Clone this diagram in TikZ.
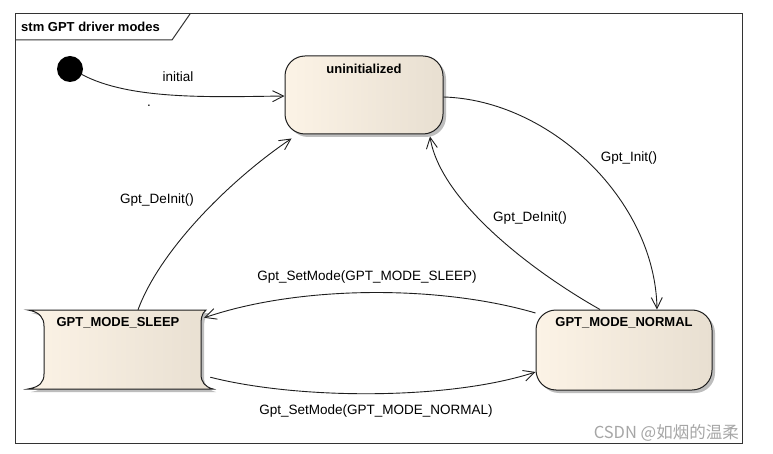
\documentclass[tikz,border=0pt]{standalone}
\usepackage{fontspec}
\setmainfont{Liberation Sans}
\newfontfamily\cjkfont{Noto Sans CJK SC}
\usetikzlibrary{arrows.meta,calc}
\definecolor{edgec}{HTML}{1E1E1E}
\definecolor{fillL}{HTML}{FCF3E6}
\definecolor{fillR}{HTML}{E8DFD1}
\definecolor{shadowc}{HTML}{BDBDBD}
\begin{document}
\begin{tikzpicture}[x=1pt,y=-1pt,
  conn/.style={draw=edgec, line width=0.9pt, -{Straight Barb[length=11pt,width=11pt,line width=0.9pt]}},
  lbl/.style={font=\fontsize{13.5}{15}\selectfont, text=black, inner sep=0},
  stname/.style={font=\bfseries\fontsize{13}{15}\selectfont, inner sep=0},
  statebox/.style={draw=edgec, line width=1pt, rounded corners=20pt, left color=fillL, right color=fillR, inner sep=0},
  shadowbox/.style={fill=shadowc, draw=none, rounded corners=20pt}]
\useasboundingbox (0,0) rectangle (773,454);
\fill[white] (0,0) rectangle (773,454);
% frame
\draw[draw=black!80, line width=1pt] (15,14) rectangle (742,443);
\draw[draw=black!80, line width=1pt] (15,40) -- (172,40) -- (190,14);
\node[stname, anchor=west] (title) at (21,27) {stm GPT driver modes};
% initial
\node[circle, fill=black, minimum size=26pt, inner sep=0] (init) at (70,69) {};
% uninitialized
\fill[shadowbox] (288,59) rectangle (446,137);
\node[statebox, minimum width=158pt, minimum height=78pt] (unin) at (364,95) {};
\node[stname] (unint) at (364,69) {uninitialized};
% normal
\fill[shadowbox] (539,313) rectangle (715,393);
\node[statebox, minimum width=176pt, minimum height=80pt] (norm) at (624,350) {};
\node[stname] (normt) at (624,323) {GPT\_MODE\_NORMAL};
% sleep
\fill[shadowc, shift={(3,3)}] (28,310) -- (206,310) .. controls (201,314) and (201,320) .. (201,326) -- (201,374) .. controls (201,382) and (205,387) .. (213,389) -- (28,389) .. controls (40,387) and (44,382) .. (44,374) -- (44,326) .. controls (44,318) and (40,312) .. (28,310) -- cycle;
\path[draw=edgec, line width=1pt, left color=fillL, right color=fillR] (28,310) -- (206,310) .. controls (201,314) and (201,320) .. (201,326) -- (201,374) .. controls (201,382) and (205,387) .. (213,389) -- (28,389) .. controls (40,387) and (44,382) .. (44,374) -- (44,326) .. controls (44,318) and (40,312) .. (28,310) -- cycle;
\node[inner sep=0, minimum width=180pt, minimum height=79pt] (sleep) at (120,349.5) {};
\node[stname] (sleept) at (118,323) {GPT\_MODE\_SLEEP};
% connectors
\draw[conn] (init.-25) .. controls (130,100) and (210,97) .. ($(unin.west)+(0,1)$);
\draw[conn] ($(unin.east)+(0,2)$) .. controls (550,100) and (655,200) .. ($(norm.north)+(33,0)$);
\draw[conn] ($(norm.north)+(-24,0)$) .. controls (530,270) and (440,200) .. ($(unin.south)+(66,2)$);
\draw[conn] ($(sleep.north)+(18,0)$) .. controls (160,250) and (230,180) .. ($(unin.south west)+(7,4)$);
\draw[conn] ($(norm.west)+(0,-37)$) .. controls (440,285) and (300,285) .. ($(sleep.north east)+(-6,8)$);
\draw[conn] ($(sleep.south east)+(0,-12)$) .. controls (300,400) and (450,400) .. ($(norm.west)+(0,22)$);
% labels
\node[lbl] (l1) at (178,77) {initial};
\node[lbl, anchor=base] (dot) at (149,107) {.};
\node[lbl] (l2) at (629,158) {Gpt\_Init()};
\node[lbl] (l3) at (530,218) {Gpt\_DeInit()};
\node[lbl] (l4) at (157,200) {Gpt\_DeInit()};
\node[lbl] (l5) at (367,277) {Gpt\_SetMode(GPT\_MODE\_SLEEP)};
\node[lbl] (l6) at (376,411) {Gpt\_SetMode(GPT\_MODE\_NORMAL)};
\node[font=\cjkfont\fontsize{16.5}{18}\selectfont, text=black!35, anchor=east, inner sep=0] (wm) at (739,433) {CSDN @如烟的温柔};
\end{tikzpicture}
\end{document}
